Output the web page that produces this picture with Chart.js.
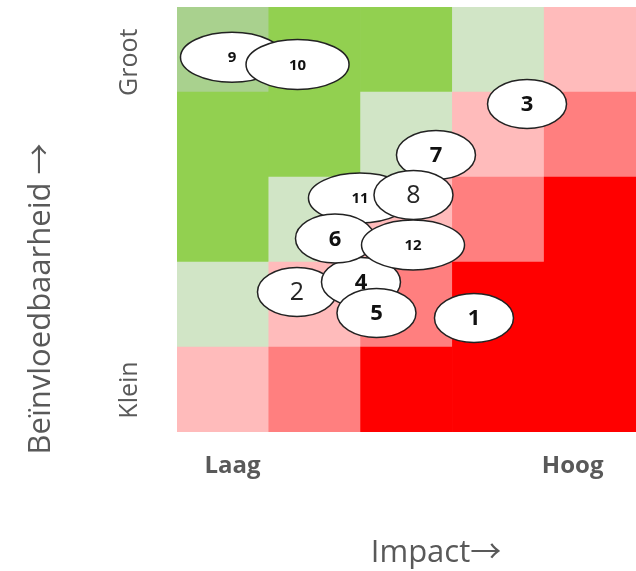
<!DOCTYPE html>
<html>
<head>
<meta charset="utf-8">
<script src="https://cdn.jsdelivr.net/npm/chart.js@4"></script>
<style>
  html, body { margin: 0; padding: 0; background: #ffffff; }
  #wrap { width: 636px; height: 571px; }
</style>
</head>
<body>
<div id="wrap"><canvas id="c" width="636" height="571"></canvas></div>
<script>
// ---- data ----
const riskLabels = ['1','2','3','4','5','6','7','8','9','10','11','12'];
const impactValues = [3.235, 1.307, 3.813, 2.004, 2.173, 1.721, 2.821, 2.576, 0.599, 1.313, 1.993, 2.571];
const influenceValues = [1.341, 1.647, 3.859, 1.765, 1.400, 2.276, 3.259, 2.788, 4.410, 4.324, 2.753, 2.200];

// heat levels per row (row 0 = bottom), per column (col 0 = left)
const heatRow0 = [3, 4, 5, 5, 5];
const heatRow1 = [2, 3, 4, 5, 5];
const heatRow2 = [1, 2, 3, 4, 5];
const heatRow3 = [1, 1, 2, 3, 4];
const heatRow4 = [0, 1, 1, 2, 3];

const xTickLabels = ['Laag', 'Hoog'];
const xTickValues = [0.605, 4.31];
const yTickLabels = ['Klein', 'Groot'];
const yTickValues = [0.494, 4.35];

const xTitle = 'Impact\u2192';
const yTitle = 'Be\u00efnvloedbaarheid \u2192';

// ---- styles ----
const palette = ['#a9d18e', '#92d050', '#d1e5c6', '#ffbbbb', '#ff7f7f', '#ff0000'];
const drawOrder = ['3', '9', '10', '7', '11', '8', '2', '4', '6', '12', '5', '1'];
const wideLabels = ['9', '10', '11', '12'];
const thinLabels = ['2', '8'];
const textFamily = '"Open Sans", "Noto Sans CJK SC", sans-serif';

const heatRows = [heatRow0, heatRow1, heatRow2, heatRow3, heatRow4];
const heatDatasets = heatRows.map((row, r) => ({
  type: 'bar',
  data: row.map((lvl, c) => ({ x: c + 0.5, y: [r, r + 1] })),
  backgroundColor: row.map(lvl => palette[lvl]),
  borderWidth: 0,
  barPercentage: 1,
  categoryPercentage: 1,
  grouped: false,
  order: 10
}));

const riskDataset = {
  type: 'scatter',
  data: impactValues.map((x, i) => ({ x: x, y: influenceValues[i] })),
  pointRadius: 0,
  pointHoverRadius: 0,
  order: 0
};

const ellipsePlugin = {
  id: 'ellipses',
  afterDatasetsDraw(chart) {
    const idx = chart.data.datasets.length - 1;
    const meta = chart.getDatasetMeta(idx);
    const ctx = chart.ctx;
    ctx.save();
    drawOrder.forEach(lbl => {
      const i = riskLabels.indexOf(lbl);
      const el = meta.data[i];
      if (!el) return;
      const wide = wideLabels.includes(lbl);
      const rx = wide ? 51.5 : 39.5;
      const ry = wide ? 25 : 24.5;
      ctx.beginPath();
      ctx.ellipse(el.x, el.y, rx, ry, 0, 0, Math.PI * 2);
      ctx.fillStyle = '#ffffff';
      ctx.fill();
      ctx.lineWidth = 1.5;
      ctx.strokeStyle = '#222222';
      ctx.stroke();
      let font;
      if (wide) font = 'bold 15px ' + textFamily;
      else if (thinLabels.includes(lbl)) font = '25px ' + textFamily;
      else font = 'bold 22px ' + textFamily;
      ctx.font = font;
      ctx.fillStyle = thinLabels.includes(lbl) ? '#262626' : '#111111';
      ctx.textAlign = 'center';
      ctx.textBaseline = 'middle';
      ctx.fillText(lbl, el.x, el.y + 1);
    });
    ctx.restore();
  }
};

const titlesPlugin = {
  id: 'axisTitles',
  afterDraw(chart) {
    const ctx = chart.ctx;
    ctx.save();
    ctx.fillStyle = '#595959';
    ctx.textAlign = 'center';
    ctx.textBaseline = 'middle';
    ctx.font = '31px ' + textFamily;
    ctx.fillText(xTitle, 436, 553);
    ctx.translate(41, 299);
    ctx.rotate(-Math.PI / 2);
    ctx.font = '31px ' + textFamily;
    ctx.fillText(yTitle, 0, 0);
    ctx.restore();
  }
};

new Chart(document.getElementById('c'), {
  type: 'bar',
  data: { datasets: [...heatDatasets, riskDataset] },
  options: {
    responsive: false,
    animation: false,
    events: [],
    layout: { padding: { top: 7, right: 0, left: 0, bottom: 0 } },
    plugins: { legend: { display: false }, tooltip: { enabled: false } },
    scales: {
      x: {
        type: 'linear',
        offset: false,
        min: 0, max: 5,
        grid: { display: false, drawTicks: false },
        border: { display: false },
        afterBuildTicks: s => { s.ticks = xTickValues.map(v => ({ value: v })); },
        afterFit: s => { s.height = 139; s.paddingLeft = 0; s.paddingRight = 0; },
        ticks: {
          padding: 20,
          autoSkip: false,
          maxRotation: 0, minRotation: 0,
          color: '#595959',
          font: { family: 'Open Sans', size: 24, weight: 'bold' },
          callback: v => xTickLabels[xTickValues.indexOf(v)]
        }
      },
      y: {
        type: 'linear',
        offset: false,
        min: 0, max: 5,
        grid: { display: false, drawTicks: false },
        border: { display: false },
        afterBuildTicks: s => { s.ticks = yTickValues.map(v => ({ value: v })); },
        afterFit: s => { s.width = 177; s.paddingTop = 0; s.paddingBottom = 0; },
        ticks: {
          padding: 13,
          autoSkip: false,
          minRotation: 90, maxRotation: 90,
          crossAlign: 'center',
          color: '#595959',
          font: { family: 'Open Sans', size: 25 },
          callback: v => yTickLabels[yTickValues.indexOf(v)]
        }
      }
    }
  },
  plugins: [ellipsePlugin, titlesPlugin]
});
</script>
</body>
</html>
